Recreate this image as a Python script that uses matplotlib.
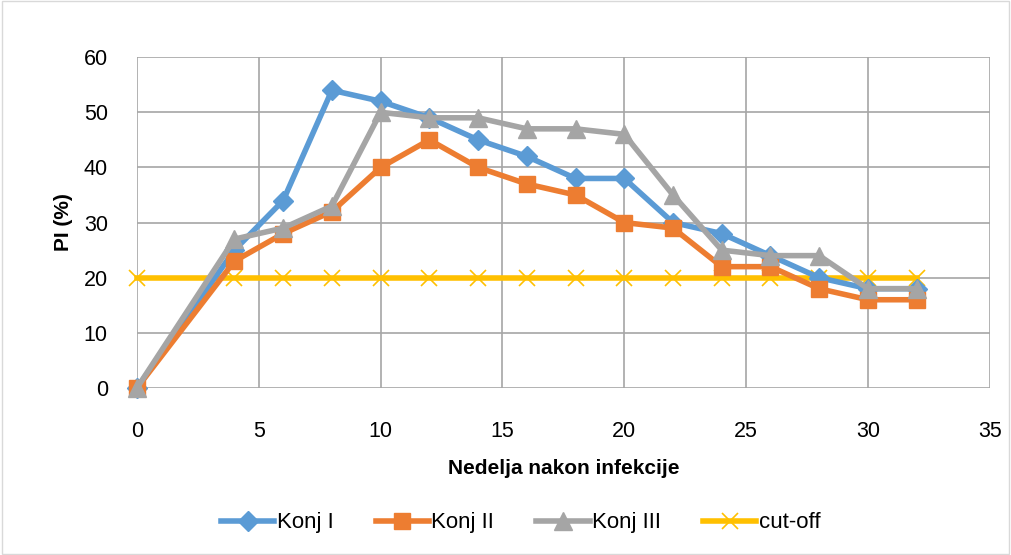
import matplotlib
matplotlib.use("Agg")
import matplotlib.pyplot as plt
from matplotlib.patches import Rectangle

weeks = [0, 4, 6, 8, 10, 12, 14, 16, 18, 20, 22, 24, 26, 28, 30, 32]
konj1 = [0, 25, 34, 54, 52, 49, 45, 42, 38, 38, 30, 28, 24, 20, 18, 18]
konj2 = [0, 23, 28, 32, 40, 45, 40, 37, 35, 30, 29, 22, 22, 18, 16, 16]
konj3 = [0, 27, 29, 33, 50, 49, 49, 47, 47, 46, 35, 25, 24, 24, 18, 18]
cutoff = [20] * len(weeks)

plt.rcParams["font.family"] = ["Liberation Sans", "DejaVu Sans"]

fig = plt.figure(figsize=(10.11, 5.55), dpi=100)
ax = fig.add_axes([0.1355, 0.301, 0.8435, 0.596])
fig.patches.append(Rectangle((0.002, 0.002), 0.996, 0.996, transform=fig.transFigure,
                             fill=False, edgecolor="#d9d9d9", linewidth=1))

ax.plot(weeks, cutoff, color="#ffc000", lw=4, marker="x", ms=12, mew=1.2,
        label="cut-off", zorder=2, clip_on=False)
ax.plot(weeks, konj1, color="#5b9bd5", lw=4, marker="D", ms=10, label="Konj I",
        zorder=3, clip_on=False)
ax.plot(weeks, konj2, color="#ed7d31", lw=4, marker="s", ms=12, label="Konj II",
        zorder=4, clip_on=False)
ax.plot(weeks, konj3, color="#a5a5a5", lw=4, marker="^", ms=13, label="Konj III",
        zorder=5, clip_on=False)

ax.set_xlim(0, 35)
ax.set_ylim(0, 60)
ax.set_xticks(range(0, 36, 5))
ax.set_yticks(range(0, 61, 10))
ax.grid(True, color="#a6a6a6", lw=1.2)
ax.set_axisbelow(True)
for s in ax.spines.values():
    s.set_visible(False)
ax.tick_params(length=0, labelsize=15.5)
ax.tick_params(axis="y", pad=21)
ax.tick_params(axis="x", pad=24)
ax.set_xlabel("Nedelja nakon infekcije", fontsize=15, fontweight="bold", labelpad=12)
ax.set_ylabel("PI (%)", fontsize=15, fontweight="bold", labelpad=8)

h, l = ax.get_legend_handles_labels()
order = [1, 2, 3, 0]
fig.legend([h[i] for i in order], [l[i] for i in order], loc="center",
           bbox_to_anchor=(0.515, 0.058), ncol=4, frameon=False, fontsize=16,
           handlelength=2.4, handletextpad=0.1, columnspacing=1.9)

fig.savefig("out.png", dpi=100)
